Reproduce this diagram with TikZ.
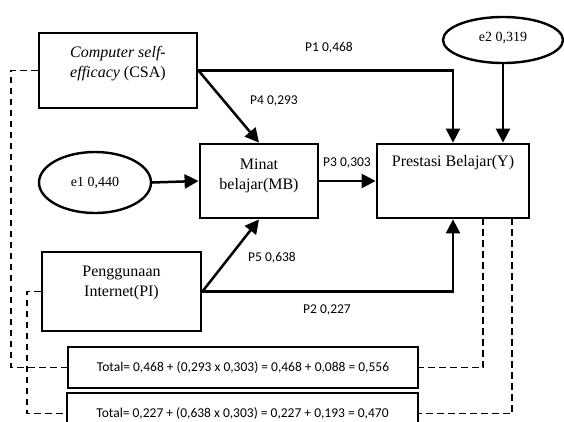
\documentclass[tikz,border=0pt]{standalone}
\usepackage{fontspec}
\setmainfont{Liberation Serif}
\newfontfamily\calfont{Carlito}
\usetikzlibrary{arrows.meta,shapes.geometric}
\begin{document}
\begin{tikzpicture}[x=1pt,y=-1pt,
  box/.style={draw, line width=2.8pt, rectangle, inner sep=0pt},
  ell/.style={draw, ellipse, line width=2.4pt, inner sep=0pt, font=\fontsize{14}{17}\selectfont},
  txt/.style={align=center, inner sep=0pt, font=\fontsize{16}{19.5}\selectfont},
  arr/.style={line width=2.5pt, -{Triangle[length=14pt,width=14pt]}},
  dsh/.style={line width=1.5pt, dash pattern=on 6.5pt off 4.5pt},
  lbl/.style={inner sep=0pt, font=\calfont\fontsize{13.5}{16}\selectfont},
  tot/.style={draw, line width=1.2pt, rectangle, inner sep=0pt, font=\calfont\fontsize{13.5}{16}\selectfont}]
\useasboundingbox (0,0) rectangle (564,421);
\clip (0,0) rectangle (564,421);
% boxes
\node[box, minimum width=158pt, minimum height=75pt] (CSA) at (118,70.5) {};
\node[txt] (CSAt) at (118,63.5) {\textit{Computer self-}\\\textit{efficacy} (CSA)};
\node[box, minimum width=118pt, minimum height=74pt] (MB) at (259,181) {};
\node[txt] (MBt) at (259,176) {Minat\\belajar(MB)};
\node[box, minimum width=152pt, minimum height=74pt] (Y) at (453,181) {};
\node[txt] (Yt) at (453,163) {Prestasi Belajar(Y)};
\node[box, minimum width=159pt, minimum height=79pt] (PI) at (121.5,291.5) {};
\node[txt] (PIt) at (121.5,283) {Penggunaan\\Internet(PI)};
% ellipses
\node[ell, minimum width=112pt, minimum height=61pt] (e1) at (95,182.5) {e1 0,440};
\node[ell, minimum width=120pt, minimum height=46pt, text depth=6pt] (e2) at (503,40) {e2 0,319};
% total boxes
\node[tot, minimum width=350pt, minimum height=41pt] (T1) at (243,367.5) {Total= 0,468 + (0,293 x 0,303) = 0,468 + 0,088 = 0,556};
\node[tot, minimum width=351pt, minimum height=41pt] (T2) at (242.5,413.5) {Total= 0,227 + (0,638 x 0,303) = 0,227 + 0,193 = 0,470};
% arrows
\draw[arr] (CSA.east) -| (Y.north);
\draw[arr] (e2.south) -- (e2.south |- Y.north);
\draw[arr] (CSA.east) -- (MB.north);
\draw[arr] (e1.east) -- (MB.west);
\draw[arr] (MB.east) -- (Y.west);
\draw[arr] (PI.east) -| (Y.south);
\draw[arr] (PI.east) -- (MB.south);
% labels
\node[lbl] (p1) at (329,48) {P1 0,468};
\node[lbl] (p4) at (274,101) {P4 0,293};
\node[lbl] (p3) at (347,163) {P3 0,303};
\node[lbl] (p5) at (272,258) {P5 0,638};
\node[lbl] (p2) at (327,310) {P2 0,227};
% dashed
\coordinate (a1) at (11,70.5);
\coordinate (a2) at (27,291.5);
\coordinate (b1) at (483,218);
\coordinate (b2) at (512,218);
\draw[dsh] (CSA.west) -- (a1) |- (T1.west);
\draw[dsh] (PI.west) -- (a2) |- (T2.west);
\draw[dsh] (b1) |- (T1.east);
\draw[dsh] (b2) |- (T2.east);
\end{tikzpicture}
\end{document}
